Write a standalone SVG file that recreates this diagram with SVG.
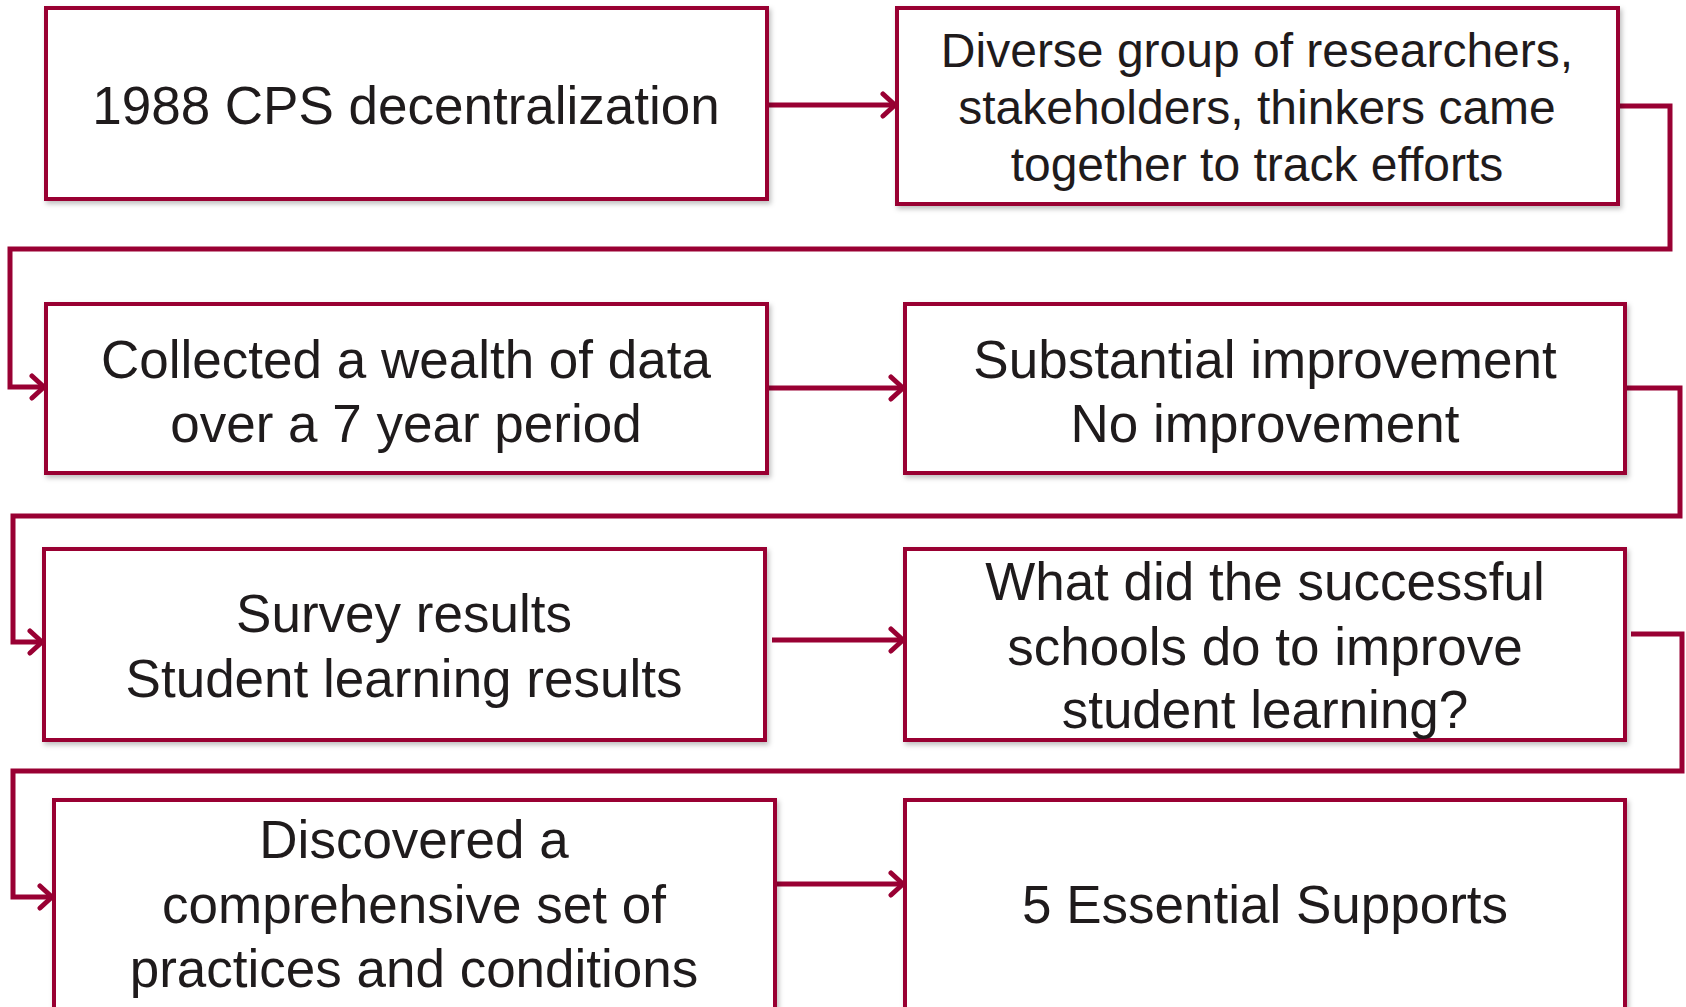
<svg xmlns="http://www.w3.org/2000/svg" width="1686" height="1007" viewBox="0 0 1686 1007">
<defs>
<filter id="sh" x="-5%" y="-5%" width="110%" height="115%">
<feDropShadow dx="2" dy="3" stdDeviation="2.5" flood-color="#000" flood-opacity="0.25"/>
</filter>
<marker id="ah" markerUnits="userSpaceOnUse" markerWidth="20" markerHeight="28" refX="16" refY="14" orient="auto">
<path d="M4,3 L16,14 L4,25" fill="none" stroke="#990033" stroke-width="5" stroke-linecap="round" stroke-linejoin="round"/>
</marker>
</defs>
<style>
.box{fill:#fff;stroke:#990033;stroke-width:4;filter:url(#sh)}
.lbl{font-family:"Liberation Sans",Arial,sans-serif;font-size:53px;fill:#1f1b1c;text-anchor:middle}
.s48{font-size:48px}
.con{fill:none;stroke:#990033;stroke-width:5;marker-end:url(#ah)}
</style>
<rect width="1686" height="1007" fill="#fff"/>
<g id="connectors">
<path class="con" d="M767,105 H895"/>
<path class="con" d="M1618,106 H1670 V249 H10 V387 H44"/>
<path class="con" d="M767,388 H903"/>
<path class="con" d="M1626,388 H1680 V516 H13 V642 H42"/>
<path class="con" d="M772,640 H903"/>
<path class="con" d="M1631,634 H1682 V771 H13 V897 H52"/>
<path class="con" d="M775,884 H903"/>
</g>
<g id="n1"><rect class="box" x="46" y="8" width="721" height="191"/>
<text class="lbl" x="406" y="124">1988 CPS decentralization</text></g>
<g id="n2"><rect class="box" x="897" y="8" width="721" height="196"/>
<text class="lbl s48" x="1257" y="67">Diverse group of researchers,</text>
<text class="lbl s48" x="1257" y="124">stakeholders, thinkers came</text>
<text class="lbl s48" x="1257" y="181">together to track efforts</text></g>
<g id="n3"><rect class="box" x="46" y="304" width="721" height="169"/>
<text class="lbl" x="406" y="378">Collected a wealth of data</text>
<text class="lbl" x="406" y="442">over a 7 year period</text></g>
<g id="n4"><rect class="box" x="905" y="304" width="720" height="169"/>
<text class="lbl" x="1265" y="378">Substantial improvement</text>
<text class="lbl" x="1265" y="442">No improvement</text></g>
<g id="n5"><rect class="box" x="44" y="549" width="721" height="191"/>
<text class="lbl" x="404" y="632">Survey results</text>
<text class="lbl" x="404" y="697">Student learning results</text></g>
<g id="n6"><rect class="box" x="905" y="549" width="720" height="191"/>
<text class="lbl" x="1265" y="600">What did the successful</text>
<text class="lbl" x="1265" y="665">schools do to improve</text>
<text class="lbl" x="1265" y="728">student learning?</text></g>
<g id="n7"><rect class="box" x="54" y="800" width="721" height="230"/>
<text class="lbl" x="414" y="858">Discovered a</text>
<text class="lbl" x="414" y="923">comprehensive set of</text>
<text class="lbl" x="414" y="987">practices and conditions</text></g>
<g id="n8"><rect class="box" x="905" y="800" width="720" height="230"/>
<text class="lbl" x="1265" y="923">5 Essential Supports</text></g>
</svg>
